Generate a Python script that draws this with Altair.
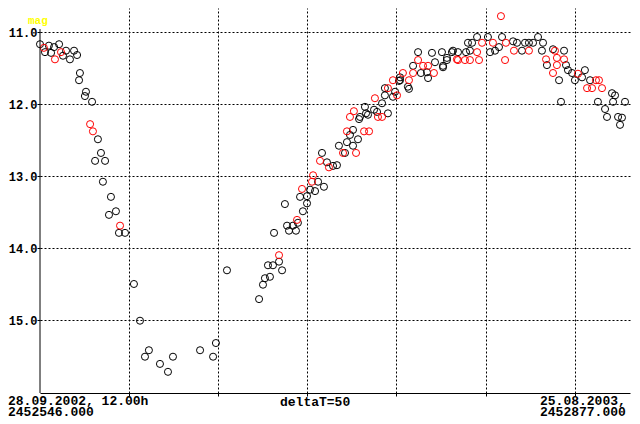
import altair as alt
import pandas as pd

# Days after JD 2452546.0 and visual magnitudes
black_day = [0.0, 2.8, 5.0, 7.9, 6.2, 10.7, 12.9, 14.6, 16.8, 19.1, 20.8, 22.4, 21.9, 25.8, 25.2, 29.2,
             32.5, 34.2, 30.9, 36.5, 35.3, 39.8, 42.6, 38.7, 44.3, 47.7,
             52.7, 56.1, 61.1, 58.9, 67.3, 71.8, 74.6, 89.8, 97.1, 98.7, 104.9,
             122.9, 125.1, 126.2, 129.0, 127.9, 130.7, 134.1, 135.8, 131.3, 137.4, 138.6, 141.9, 139.7,
             143.6, 144.7, 147.5, 149.8, 145.9, 149.8, 151.5, 156.0, 154.3, 159.3, 158.2, 161.0, 164.4,
             166.6, 167.7, 171.1, 172.2, 173.9, 175.6, 175.6, 178.4, 179.0, 179.5, 182.3, 182.9, 184.0,
             187.4, 189.1, 191.9, 195.2, 193.5, 198.0, 202.0, 206.4, 193.5, 199.2, 201.4, 202.0, 207.0,
             209.3, 212.1, 213.7, 217.1, 217.7, 219.9, 221.6, 225.5, 226.1, 228.3, 231.1, 234.5, 239.0,
             240.1, 245.2, 251.3, 252.5, 257.5, 228.3, 226.1, 231.7, 241.2, 242.4, 255.3, 259.2, 265.4,
             267.6, 270.4, 272.1, 274.3, 276.6, 279.4, 282.2, 281.6, 284.4, 287.8, 291.2, 294.0, 295.1,
             296.2, 292.3, 298.5, 300.1, 304.1, 305.7, 308.6, 313.0, 320.9, 322.6, 321.5, 317.0, 318.1,
             324.3, 326.5, 325.4, 328.2]
black_mag = [11.17, 11.28, 11.19, 11.21, 11.29, 11.17, 11.33, 11.26, 11.38, 11.26, 11.32, 11.57, 11.67, 11.83, 11.89, 11.97,
             12.49, 12.68, 12.79, 12.79, 13.08, 13.29, 13.49, 13.54, 13.79, 13.79,
             14.50, 15.01, 15.42, 15.51, 15.61, 15.72, 15.51, 15.42, 15.51, 15.32, 14.31,
             14.71, 14.51, 14.42, 14.40, 14.24, 14.24, 14.19, 14.31, 13.79, 13.39, 13.69, 13.69, 13.76,
             13.76, 13.65, 13.49, 13.38, 13.29, 13.28, 13.19, 13.08, 13.21, 13.15, 12.68, 12.81, 12.86,
             12.85, 12.58, 12.68, 12.53, 12.43, 12.36, 12.58, 12.49, 12.21, 12.18, 12.04, 12.13, 12.15,
             12.08, 12.11, 11.99, 12.13, 11.88, 11.90, 11.67, 11.76, 11.78, 11.83, 11.68, 11.63, 11.79,
             11.47, 11.28, 11.57, 11.56, 11.64, 11.29, 11.42, 11.28, 11.47, 11.39, 11.28, 11.28, 11.28,
             11.15, 11.07, 11.07, 11.28, 11.21, 11.36, 11.49, 11.26, 11.26, 11.15, 11.26, 11.07, 11.13,
             11.15, 11.26, 11.15, 11.15, 11.15, 11.07, 11.15, 11.26, 11.46, 11.24, 11.67, 11.26, 11.46,
             11.53, 11.97, 11.57, 11.67, 11.63, 11.53, 11.67, 11.97, 11.85, 11.88, 11.97, 12.07, 12.18,
             12.18, 12.19, 12.29, 11.97]

red_day = [2.2, 8.4, 11.8, 28.1, 29.7, 44.9, 134.1, 144.2, 147.0, 152.6, 153.2, 157.1, 162.1, 170.0,
           172.2, 177.3, 181.8, 184.6, 173.9, 176.1, 189.6, 191.9, 187.9, 195.2, 200.3, 198.0, 203.6,
           207.0, 209.3, 212.1, 214.9, 217.7, 221.0, 234.5, 238.4, 241.2, 246.3, 245.2, 248.0, 254.1,
           261.4, 260.9, 258.6, 233.9, 265.9, 274.3, 283.9, 288.9, 290.0, 290.0, 287.8, 294.0, 301.8,
           306.9, 309.7, 311.9, 313.6, 315.3]
red_mag = [11.22, 11.38, 11.28, 12.28, 12.38, 13.69, 14.10, 13.61, 13.18, 13.08, 12.99, 12.79, 12.88, 12.68,
           12.38, 12.68, 12.38, 12.38, 12.18, 12.10, 12.18, 12.18, 11.92, 11.78, 11.88, 11.67, 11.57,
           11.67, 11.57, 11.39, 11.47, 11.47, 11.57, 11.39, 11.39, 11.39, 11.39, 11.28, 11.15, 11.15,
           11.15, 11.39, 10.78, 11.38, 11.26, 11.26, 11.38, 11.26, 11.36, 11.46, 11.57, 11.38, 11.58,
           11.78, 11.78, 11.67, 11.67, 11.78]

grid_days = [50, 100, 150, 200, 250, 300]
grid_mags = [11, 12, 13, 14, 15]

start_label = "28.09.2002, 12.00h\n2452546.000"
end_label = "25.08.2003, 12.00h\n2452877.000"
step_label = "deltaT=50"

FONT = "Liberation Mono"

xs = alt.Scale(domain=[0, 331], nice=False, zero=False)
ys = alt.Scale(domain=[10.667, 16.014], reverse=True, nice=False, zero=False)

xaxis = alt.Axis(values=grid_days, grid=True, gridDash=[2, 2], gridColor="black", gridOpacity=1,
                 labels=False, title=None, domainColor="black", tickColor="black", tickSize=3)
yaxis = alt.Axis(values=grid_mags, format=".1f", grid=True, gridDash=[2, 2], gridColor="black",
                 gridOpacity=1, domain=False, title=None, tickColor="black", tickSize=3,
                 labelPadding=0, labelFont=FONT, labelFontWeight="bold", labelFontSize=12,
                 labelColor="black", labelOffset=1)

bdf = pd.DataFrame({"day": black_day, "mag": black_mag})
rdf = pd.DataFrame({"day": red_day, "mag": red_mag})

black = alt.Chart(bdf).mark_point(shape="circle", filled=False, size=50, strokeWidth=1,
                                  color="black", opacity=1).encode(
    x=alt.X("day:Q", scale=xs, axis=xaxis),
    y=alt.Y("mag:Q", scale=ys, axis=yaxis))
red = alt.Chart(rdf).mark_point(shape="circle", filled=False, size=50, strokeWidth=1,
                                color="#ff0000", opacity=1).encode(
    x=alt.X("day:Q", scale=xs), y=alt.Y("mag:Q", scale=ys))

yline = alt.Chart(pd.DataFrame({"x": [0], "y": [10.96], "y2": [16.014]})).mark_rule(
    color="black", strokeWidth=1).encode(
    x=alt.X("x:Q", scale=xs), y=alt.Y("y:Q", scale=ys), y2="y2:Q")


def label(txt, x, y, color="black", size=13):
    return alt.Chart(pd.DataFrame({"t": [txt]})).mark_text(
        align="left", baseline="alphabetic", font=FONT, fontWeight="bold", fontSize=size,
        lineBreak="\n", lineHeight=11, color=color).encode(
        x=alt.value(x), y=alt.value(y), text="t:N")


texts = [
    label("mag", -12, 16, color="#ffff00", size=11),
    label(start_label, -32, 397),
    label(step_label, 240, 398),
    label(end_label, 500, 397),
]

chart = alt.layer(black, red, yline, *texts).properties(
    width=590, height=385,
    autosize=alt.AutoSizeParams(type="none"),
    padding={"left": 32, "top": 0, "right": 2, "bottom": 23},
    background="white",
).configure_view(stroke=None)

chart.save("out.html", embed_options={"renderer": "svg", "actions": False})
